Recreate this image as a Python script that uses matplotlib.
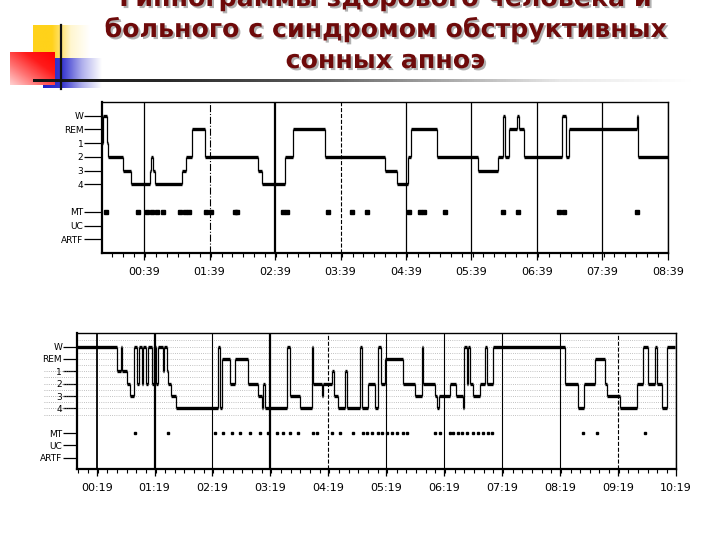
import numpy as np
import matplotlib.pyplot as plt
import matplotlib.patheffects as pe
from matplotlib.colors import LinearSegmentedColormap
from matplotlib.ticker import FixedLocator, MultipleLocator

# --- данные -------------------------------------------------------------
STAGE_LABELS = ["W", "REM", "1", "2", "3", "4", "MT", "UC", "ARTF"]
STAGE_POS = [0, 1, 2, 3, 4, 5, 7, 8, 9]

TITLE_LINES = ["Гипнограммы здорового человека и",
               "больного с синдромом обструктивных",
               "сонных апноэ"]

# здоровый человек: начало эпизода (мин от 00:00) и стадия
healthy_t = [0.5, 1.7, 4.8, 5.7, 19.5, 27.1, 44.5, 45.3, 47.5, 49.4, 73.5,
             77.1, 83.3, 94.9, 143.7, 146.8, 168.2, 175.8, 204.8, 259.8,
             270.5, 281.2, 283.3, 307.1, 345.3, 363.6, 368.2, 369.7, 373.6,
             381.0, 382.2, 387.1, 421.5, 425.2, 428.5, 490.2, 491.2]
healthy_stage = ["1", "W", "1", "2", "3", "4", "3", "2", "3", "4", "3",
                 "2", "REM", "2", "3", "4", "2", "REM", "2", "3",
                 "4", "2", "REM", "2", "3", "2", "W", "2", "REM",
                 "W", "REM", "2", "W", "2", "REM", "W", "2"]
healthy_end = 518.8
healthy_mt = [4.1, 33.8, 42.0, 46.6, 51.2, 56.1, 71.9, 76.5, 80.2, 95.4,
              100.3, 122.3, 123.8, 166.6, 169.6, 207.8, 229.2, 242.9, 282.0,
              291.8, 295.8, 314.7, 368.1, 381.3, 419.4, 424.0, 490.2]
healthy_labels = ["00:39", "01:39", "02:39", "03:39", "04:39",
                  "05:39", "06:39", "07:39", "08:39"]

# больной с СОАС
patient_t = [-1.7, 40.0, 44.0, 45.5, 50.0, 54.0, 57.6, 61.0, 63.0, 65.6,
             67.3, 70.0, 72.5, 76.0, 78.3, 81.0, 83.0, 87.3, 88.7, 91.5,
             93.2, 96.0, 100.8, 145.0, 147.0, 148.5, 157.0, 162.3, 176.1,
             186.4, 189.9, 191.6, 193.3, 215.8, 219.2, 229.6, 241.7, 243.4,
             252.0, 253.8, 262.4, 265.0, 269.3, 276.2, 278.0, 291.7, 294.0,
             300.4, 307.3, 310.8, 313.2, 317.7, 336.7, 348.8, 355.7, 357.4,
             369.5, 371.9, 374.0, 385.0, 391.2, 398.8, 399.5, 402.3, 404.0,
             405.7, 409.2, 416.1, 421.0, 423.0, 429.9, 504.2, 518.0, 523.5,
             535.3, 545.6, 547.4, 561.2, 578.4, 585.3, 590.5, 597.4, 599.2,
             604.3, 609.5]
patient_stage = ["W", "1", "W", "1", "2", "3", "W", "2", "W", "2",
                 "W", "2", "W", "2", "W", "2", "W", "1", "W", "1",
                 "2", "3", "4", "W", "4", "REM", "2", "REM", "2",
                 "3", "4", "2", "4", "W", "3", "4", "W", "2",
                 "3", "2", "1", "3", "4", "1", "4", "W", "4",
                 "2", "4", "W", "2", "REM", "2", "3", "W", "2",
                 "3", "4", "3", "2", "3", "4", "W", "2", "W",
                 "2", "3", "2", "W", "2", "W", "2", "4", "2",
                 "REM", "2", "3", "4", "2", "W", "2", "W", "2",
                 "4", "W"]
patient_end = 618.2
patient_mt = [58.7, 93.2, 141.5, 149.5, 158.8, 167.4, 177.8, 188.2, 196.8,
              205.4, 212.3, 219.2, 227.9, 243.4, 246.9, 262.4, 271.0, 284.8,
              295.2, 298.7, 303.9, 310.8, 314.2, 319.4, 324.6, 329.8, 336.7,
              340.1, 369.5, 374.7, 385.0, 388.5, 393.7, 397.1, 402.3, 409.2,
              414.4, 419.6, 424.7, 428.2, 523.2, 537.0, 587.0]
patient_labels = ["00:19", "01:19", "02:19", "03:19", "04:19", "05:19",
                  "06:19", "07:19", "08:19", "09:19", "10:19"]

LEVEL = dict(zip(STAGE_LABELS, STAGE_POS))
NARROW = ["Liberation Sans Narrow", "DejaVu Sans"]


def to_min(s):
    h, m = s.split(":")
    return int(h) * 60 + int(m)


def draw_hypnogram(ax, times, stages, t_end, mt, labels, xlim, ylim,
                   ytick_len, grid_styles, mt_size, dotted=False):
    y = [LEVEL[s] for s in stages]
    ends = times[1:] + [t_end]
    ax.hlines(y, times, ends, colors="black", lw=2.4, zorder=4)
    ax.vlines(times[1:], y[:-1], y[1:], colors="black", lw=0.9, zorder=4)
    ax.plot(mt, [LEVEL["MT"]] * len(mt), "s", color="black",
            markersize=mt_size, zorder=4)

    ticks = [to_min(s) for s in labels]
    for t, (ls, lw) in zip(ticks, grid_styles):
        ax.axvline(t, color="black", ls=ls, lw=lw, zorder=3)

    if dotted:
        # пунктирная «сетка» скана
        for lvl in np.arange(-0.5, 5.6, 0.5):
            ax.axhline(lvl, color="#7a7a7a", lw=0.6, ls=(0, (1, 1.6)),
                       alpha=0.6, zorder=1)
            if lvl >= 2:
                ax.plot([-0.055, -0.005], [lvl, lvl], color="#7a7a7a",
                        lw=0.6, ls=(0, (1, 1.6)), alpha=0.75,
                        transform=ax.get_yaxis_transform(), clip_on=False)

    ax.set_xlim(*xlim)
    ax.set_ylim(*ylim)
    ax.xaxis.set_major_locator(FixedLocator(ticks))
    ax.xaxis.set_minor_locator(MultipleLocator(10))
    ax.set_xticklabels(labels, family=NARROW, fontsize=8)
    ax.set_yticks(STAGE_POS)
    ax.set_yticklabels(STAGE_LABELS, family=NARROW, fontsize=6.5)
    ax.tick_params(axis="y", length=ytick_len, width=0.9, pad=0.5)
    ax.tick_params(axis="x", which="major", length=5, width=0.9, pad=5)
    ax.tick_params(axis="x", which="minor", length=3, width=0.8)
    for side in ["left", "bottom"]:
        ax.spines[side].set_linewidth(1.6)
    for side in ["top", "right"]:
        ax.spines[side].set_linewidth(1.0)


fig = plt.figure(figsize=(7.2, 5.4), dpi=100)
fig.patch.set_facecolor("white")

# --- логотип и линия под заголовком --------------------------------------
bg = fig.add_axes([0, 0, 1, 1])
bg.set_xlim(0, 720)
bg.set_ylim(540, 0)
bg.axis("off")

fade = np.linspace(0, 1, 200).reshape(1, -1)
yellow = LinearSegmentedColormap.from_list("y", ["#ffd21a", "#ffd21a", "#fff6d0", "white"])
bg.imshow(fade, cmap=yellow, extent=(33, 90, 58, 25), aspect="auto", zorder=1)
blue = LinearSegmentedColormap.from_list("b", ["#2020c8", "#3a3ad0", "#b0b0ec", "white"])
bg.imshow(fade, cmap=blue, extent=(43, 102, 88, 58), aspect="auto", zorder=2)
red = LinearSegmentedColormap.from_list("r", ["#ffd0d0", "#ff7070", "#ff1a1a", "#ff0000"])
gx, gy = np.meshgrid(np.linspace(0, 1, 60), np.linspace(0, 1, 60))
bg.imshow((gx + gy) / 2, cmap=red, extent=(10, 55, 85, 52), aspect="auto",
          origin="lower", zorder=3)
line_cmap = LinearSegmentedColormap.from_list(
    "l", ["#111111", "#2a2a2a", "#555555", "#a0a0a0", "#e8e8e8", "white"])
bg.imshow(fade, cmap=line_cmap, extent=(33, 695, 81.6, 78.6), aspect="auto", zorder=4)
bg.plot([61, 61], [25, 89], color="#111111", lw=1.6, zorder=5)

# --- заголовок ----------------------------------------------------------
shadow = [pe.withSimplePatchShadow(offset=(1.5, -1.5), shadow_rgbFace="#909090", alpha=0.7)]
for i, line in enumerate(TITLE_LINES):
    fig.text(0.535, 1 - (6 + 31 * i) / 540, line, ha="center", va="baseline",
             fontsize=18.2, fontweight="bold", color="#6e0a0a",
             path_effects=shadow)

# --- гипнограммы --------------------------------------------------------
ax1 = fig.add_axes([0.1417, 0.5315, 0.786, 0.2796])
draw_hypnogram(ax1, healthy_t, healthy_stage, healthy_end, healthy_mt,
               healthy_labels, (0.5, 519), (10, -1), 13,
               [("-", 0.9), ("-.", 0.8), ("-", 1.6), ("--", 0.8),
                ("-", 0.9), ("-", 0.9), ("-", 0.9), ("-", 0.9), ("-", 0.9)],
               2.4)

ax2 = fig.add_axes([0.1065, 0.1315, 0.832, 0.2519])
draw_hypnogram(ax2, patient_t, patient_stage, patient_end, patient_mt,
               patient_labels, (-1.7, 619), (9.9, -1.1), 10,
               [("-", 1.3), ("-", 1.6), ("-", 0.8), ("-", 1.6), ("--", 0.8),
                ("-", 0.8), ("-", 0.8), ("-", 0.8), ("-", 0.8), ("--", 0.8),
                ("-", 0.9)],
               1.8, dotted=True)

fig.savefig("out.png", dpi=100)
